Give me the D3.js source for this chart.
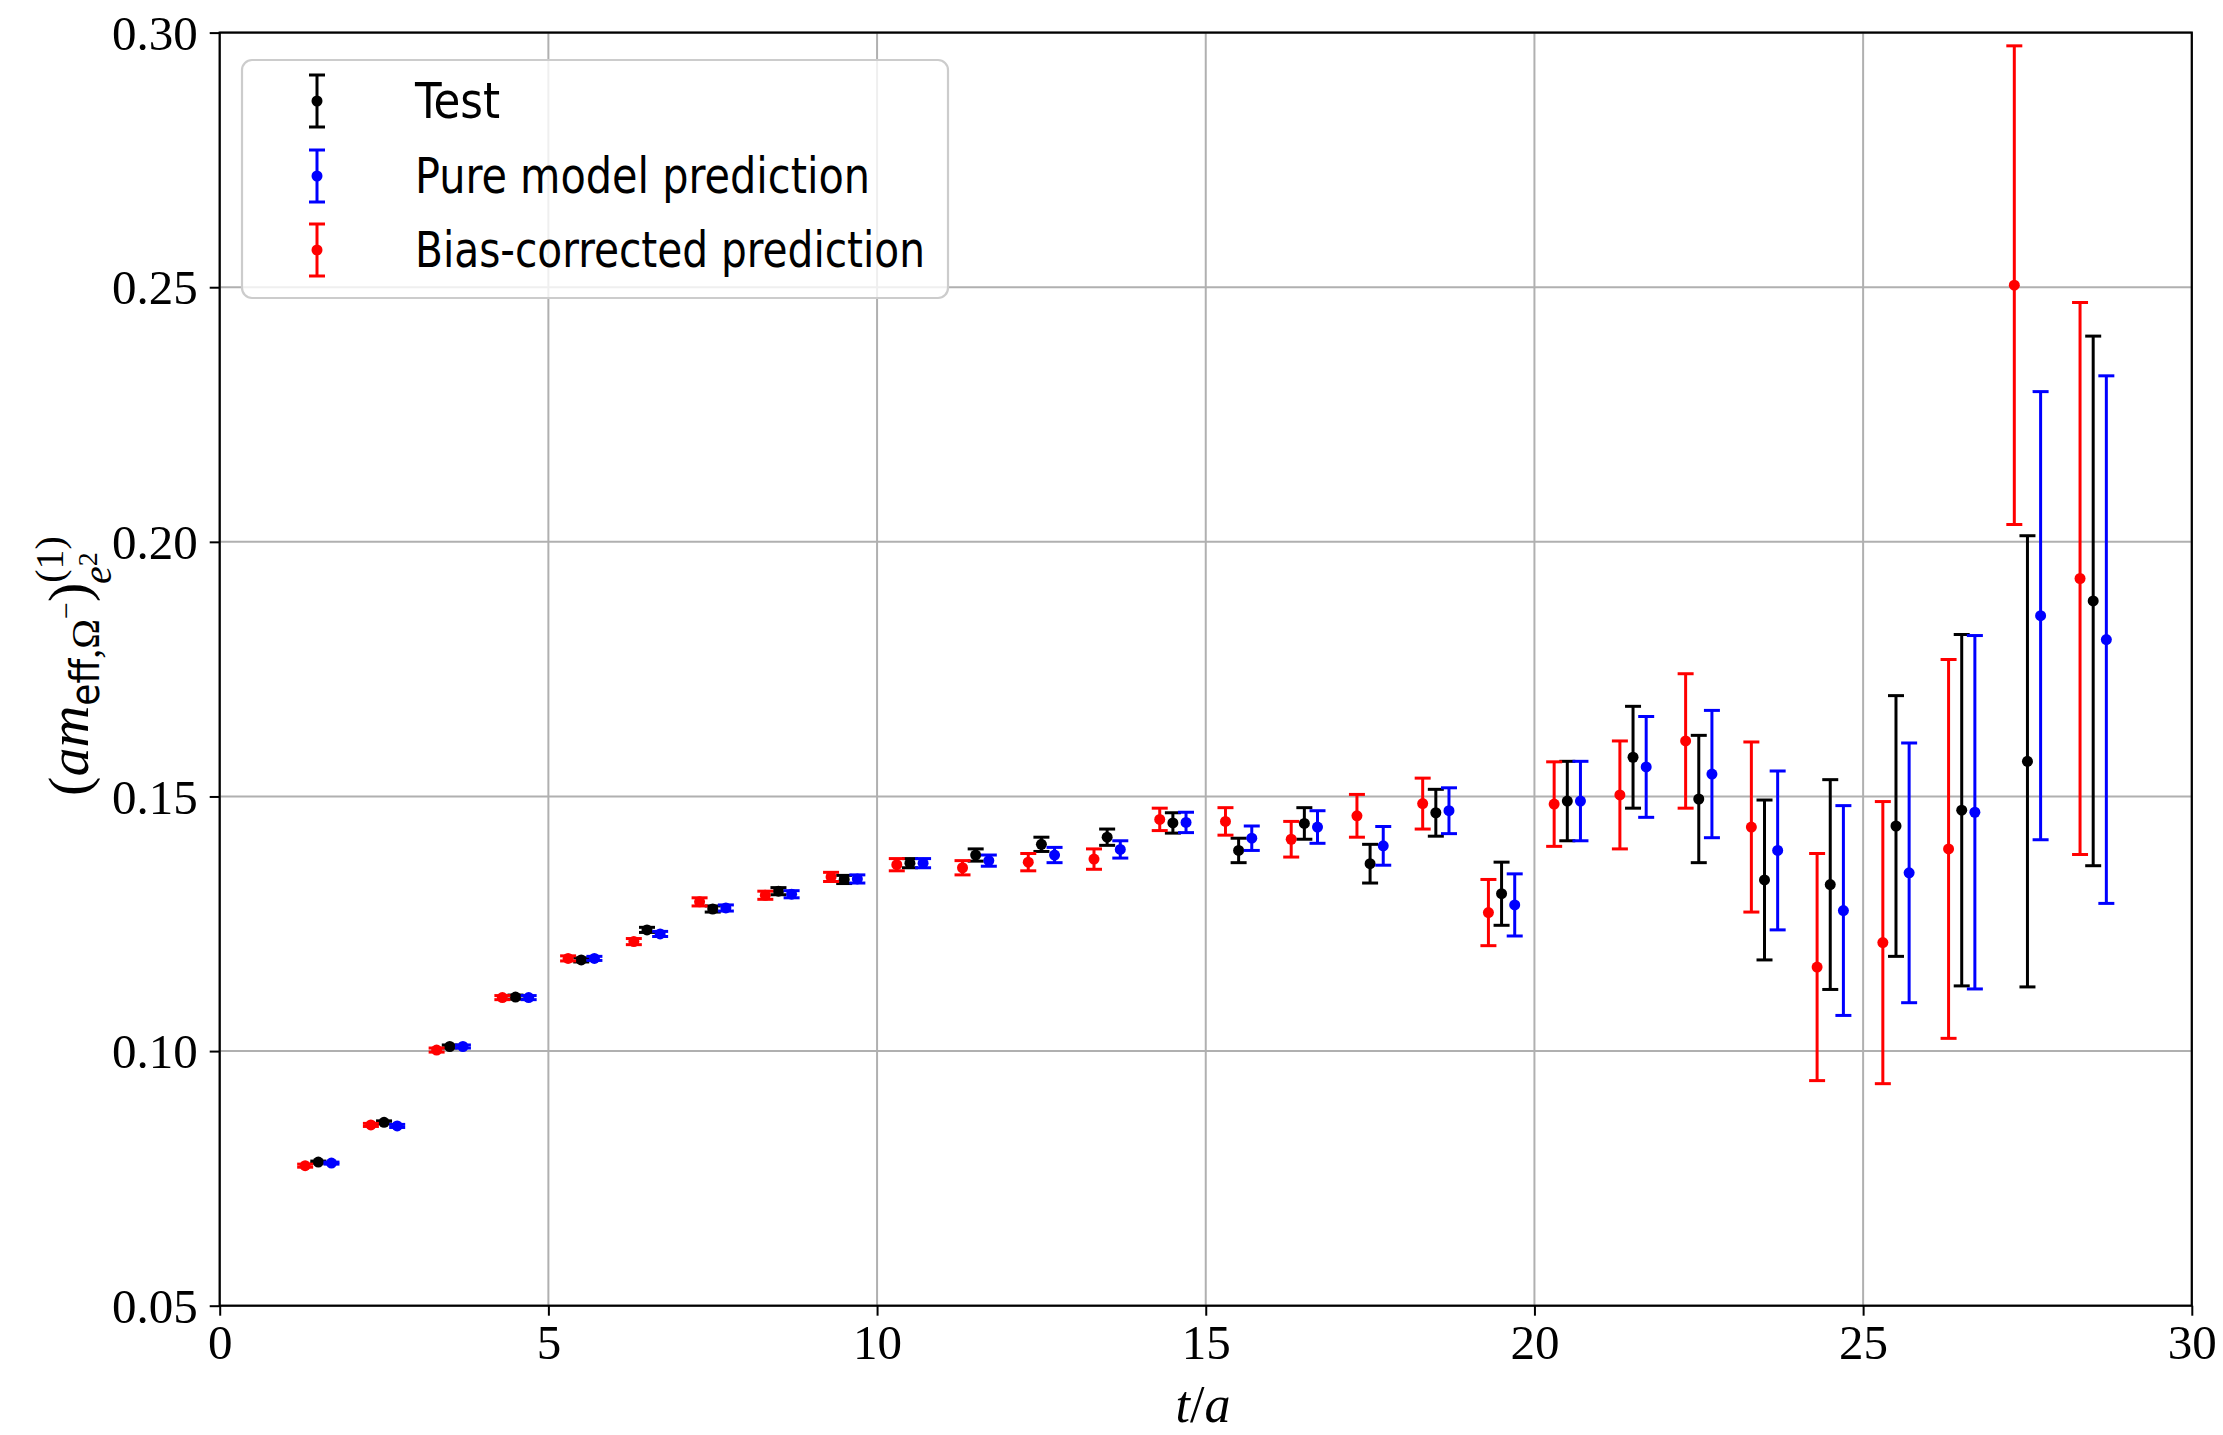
<!DOCTYPE html>
<html>
<head>
<meta charset="utf-8">
<script src="https://cdn.jsdelivr.net/npm/d3@7"></script>
<style>
  html, body { margin: 0; padding: 0; background: #fff; }
  svg { display: block; }
</style>
</head>
<body>
<svg id="chart" width="2223" height="1435"></svg>
<script>
// ---------------- DATA ----------------
const timeSlices = [1,2,3,4,5,6,7,8,9,10,11,12,13,14,15,16,17,18,19,20,21,22,23,24,25,26,27,28];

const testValues = [0.0782,0.0860,0.1009,0.1106,0.1179,0.1238,0.1279,0.1314,0.1337,0.1369,0.1385,0.1406,0.1420,0.1448,0.1394,0.1447,0.1368,0.1468,0.1309,0.1491,0.1577,0.1495,0.1336,0.1327,0.1442,0.1473,0.1569,0.1884];
const testErrors = [0.0002,0.0003,0.0003,0.0004,0.0004,0.0005,0.0006,0.0007,0.0008,0.0009,0.0012,0.0014,0.0016,0.0020,0.0024,0.0031,0.0038,0.0046,0.0062,0.0078,0.0100,0.0125,0.0157,0.0206,0.0256,0.0345,0.0443,0.0520];

const pureValues = [0.0780,0.0853,0.1009,0.1105,0.1182,0.1230,0.1281,0.1308,0.1338,0.1369,0.1374,0.1385,0.1396,0.1449,0.1418,0.1440,0.1403,0.1472,0.1287,0.1491,0.1558,0.1544,0.1394,0.1276,0.1350,0.1469,0.1855,0.1808];
const pureErrors = [0.0002,0.0003,0.0003,0.0004,0.0004,0.0005,0.0006,0.0007,0.0008,0.0009,0.0011,0.0015,0.0017,0.0020,0.0024,0.0032,0.0038,0.0045,0.0061,0.0078,0.0099,0.0125,0.0156,0.0206,0.0255,0.0347,0.0440,0.0518];

const biasValues = [0.0775,0.0855,0.1002,0.1105,0.1182,0.1215,0.1293,0.1306,0.1342,0.1366,0.1360,0.1371,0.1377,0.1455,0.1451,0.1416,0.1462,0.1486,0.1272,0.1485,0.1503,0.1609,0.1440,0.1165,0.1213,0.1397,0.2504,0.1928];
const biasErrors = [0.0003,0.0003,0.0004,0.0004,0.0005,0.0006,0.0008,0.0008,0.0009,0.0012,0.0014,0.0017,0.0020,0.0022,0.0027,0.0035,0.0042,0.0050,0.0065,0.0083,0.0106,0.0132,0.0167,0.0223,0.0277,0.0372,0.0470,0.0542];

const seriesNames = ["Test", "Pure model prediction", "Bias-corrected prediction"];
const seriesShift = [0.5, 0.7, 0.3];   // x offset of each series relative to t

const xTicks = [0, 5, 10, 15, 20, 25, 30];
const yTicks = [0.05, 0.10, 0.15, 0.20, 0.25, 0.30];
const yTickLabels = ["0.05", "0.10", "0.15", "0.20", "0.25", "0.30"];

// ---------------- LAYOUT ----------------
const plotL = 219.7, plotR = 2191.8, plotT = 32.6, plotB = 1305.7;
const colors = ["#000000", "#0000ff", "#ff0000"];
const serif = "'Liberation Serif', 'DejaVu Serif', serif";
const sans = "'Liberation Sans Narrow', 'DejaVu Sans Condensed', 'Roboto', sans-serif";
const legendTextWidths = [85, 455, 510];

const svg = d3.select("#chart");
const x = d3.scaleLinear().domain([0, 30]).range([plotL, plotR]);
const y = d3.scaleLinear().domain([0.05, 0.30]).range([plotB, plotT]);

// grid
const grid = svg.append("g");
grid.selectAll("line.vx").data(xTicks).join("line")
  .attr("x1", d => x(d)).attr("x2", d => x(d)).attr("y1", plotT).attr("y2", plotB)
  .attr("stroke", "#b0b0b0").attr("stroke-width", 2);
grid.selectAll("line.hy").data(yTicks).join("line")
  .attr("x1", plotL).attr("x2", plotR).attr("y1", d => y(d)).attr("y2", d => y(d))
  .attr("stroke", "#b0b0b0").attr("stroke-width", 2);

// axes
const xAxis = d3.axisBottom(x).tickValues(xTicks).tickSize(10).tickPadding(8).tickFormat(d3.format("d"));
const gx = svg.append("g").attr("transform", `translate(0,${plotB})`).call(xAxis);
const yAxis = d3.axisLeft(y).tickValues(yTicks).tickSize(10).tickPadding(12).tickFormat((d, i) => yTickLabels[i]);
const gy = svg.append("g").attr("transform", `translate(${plotL},0)`).call(yAxis);
[gx, gy].forEach(g => {
  g.select(".domain").remove();
  g.selectAll(".tick line").attr("stroke", "#000").attr("stroke-width", 2);
  g.selectAll(".tick text").attr("font-family", serif).attr("font-size", 49).attr("fill", "#000");
});
gx.selectAll(".tick text").attr("dy", "0.72em");
gy.selectAll(".tick text").attr("dy", "0.34em");

// frame
svg.append("rect").attr("x", plotL).attr("y", plotT).attr("width", plotR - plotL).attr("height", plotB - plotT)
  .attr("fill", "none").attr("stroke", "#000").attr("stroke-width", 2.2);

// error bars
const seriesData = [
  [testValues, testErrors],
  [pureValues, pureErrors],
  [biasValues, biasErrors]
];
const capHalf = 8, lw = 3, dotR = 5.5;
seriesData.forEach(([vals, errs], si) => {
  const pts = timeSlices.map((t, i) => ({ xv: t + seriesShift[si], v: vals[i], e: errs[i] }));
  const g = svg.append("g").attr("stroke", colors[si]).attr("fill", colors[si]);
  g.selectAll("line.bar").data(pts).join("line")
    .attr("x1", d => x(d.xv)).attr("x2", d => x(d.xv))
    .attr("y1", d => y(d.v - d.e)).attr("y2", d => y(d.v + d.e))
    .attr("stroke-width", lw);
  g.selectAll("line.capt").data(pts).join("line")
    .attr("x1", d => x(d.xv) - capHalf).attr("x2", d => x(d.xv) + capHalf)
    .attr("y1", d => y(d.v + d.e)).attr("y2", d => y(d.v + d.e))
    .attr("stroke-width", lw);
  g.selectAll("line.capb").data(pts).join("line")
    .attr("x1", d => x(d.xv) - capHalf).attr("x2", d => x(d.xv) + capHalf)
    .attr("y1", d => y(d.v - d.e)).attr("y2", d => y(d.v - d.e))
    .attr("stroke-width", lw);
  g.selectAll("circle").data(pts).join("circle")
    .attr("cx", d => x(d.xv)).attr("cy", d => y(d.v)).attr("r", dotR).attr("stroke", "none");
});

// legend
const lg = svg.append("g");
lg.append("rect").attr("x", 242).attr("y", 60).attr("width", 706).attr("height", 238).attr("rx", 10)
  .attr("fill", "#fff").attr("fill-opacity", 0.8).attr("stroke", "#cccccc").attr("stroke-width", 2.2);
const legendRowY = [101, 176, 250];
seriesNames.forEach((name, i) => {
  const cy = legendRowY[i], cx = 317, h = 26;
  const g = lg.append("g").attr("stroke", colors[i]).attr("fill", colors[i]);
  g.append("line").attr("x1", cx).attr("x2", cx).attr("y1", cy - h).attr("y2", cy + h).attr("stroke-width", lw);
  g.append("line").attr("x1", cx - capHalf).attr("x2", cx + capHalf).attr("y1", cy - h).attr("y2", cy - h).attr("stroke-width", lw);
  g.append("line").attr("x1", cx - capHalf).attr("x2", cx + capHalf).attr("y1", cy + h).attr("y2", cy + h).attr("stroke-width", lw);
  g.append("circle").attr("cx", cx).attr("cy", cy).attr("r", dotR).attr("stroke", "none");
  lg.append("text").attr("x", 415).attr("y", cy + 17).attr("font-family", sans).attr("font-size", 50)
    .attr("textLength", legendTextWidths[i]).attr("lengthAdjust", "spacingAndGlyphs")
    .attr("fill", "#000").text(name);
});

// x label
const xl = svg.append("text").attr("x", 1203).attr("y", 1422).attr("text-anchor", "middle")
  .attr("font-family", serif).attr("font-size", 52).attr("fill", "#000");
xl.append("tspan").attr("font-style", "italic").text("t");
xl.append("tspan").text("/");
xl.append("tspan").attr("font-style", "italic").text("a");

// y label
const yl = svg.append("text").attr("transform", "translate(88,666) rotate(-90)")
  .attr("text-anchor", "middle").attr("font-family", serif).attr("font-size", 58).attr("fill", "#000");
yl.append("tspan").text("(");
yl.append("tspan").attr("font-style", "italic").text("am");
yl.append("tspan").attr("font-family", sans).attr("font-size", 40).attr("dy", 11).text("eff");
yl.append("tspan").attr("font-size", 40).text(",Ω");
yl.append("tspan").attr("font-size", 30).attr("dy", -23).text("−");
yl.append("tspan").attr("dy", 12).text(")");
yl.append("tspan").attr("font-size", 40).attr("dy", -25).text("(1)");
yl.append("tspan").attr("font-size", 40).attr("font-style", "italic").attr("dx", -48).attr("dy", 48).text("e");
yl.append("tspan").attr("font-size", 28).attr("dy", -14).text("2");
</script>
</body>
</html>
